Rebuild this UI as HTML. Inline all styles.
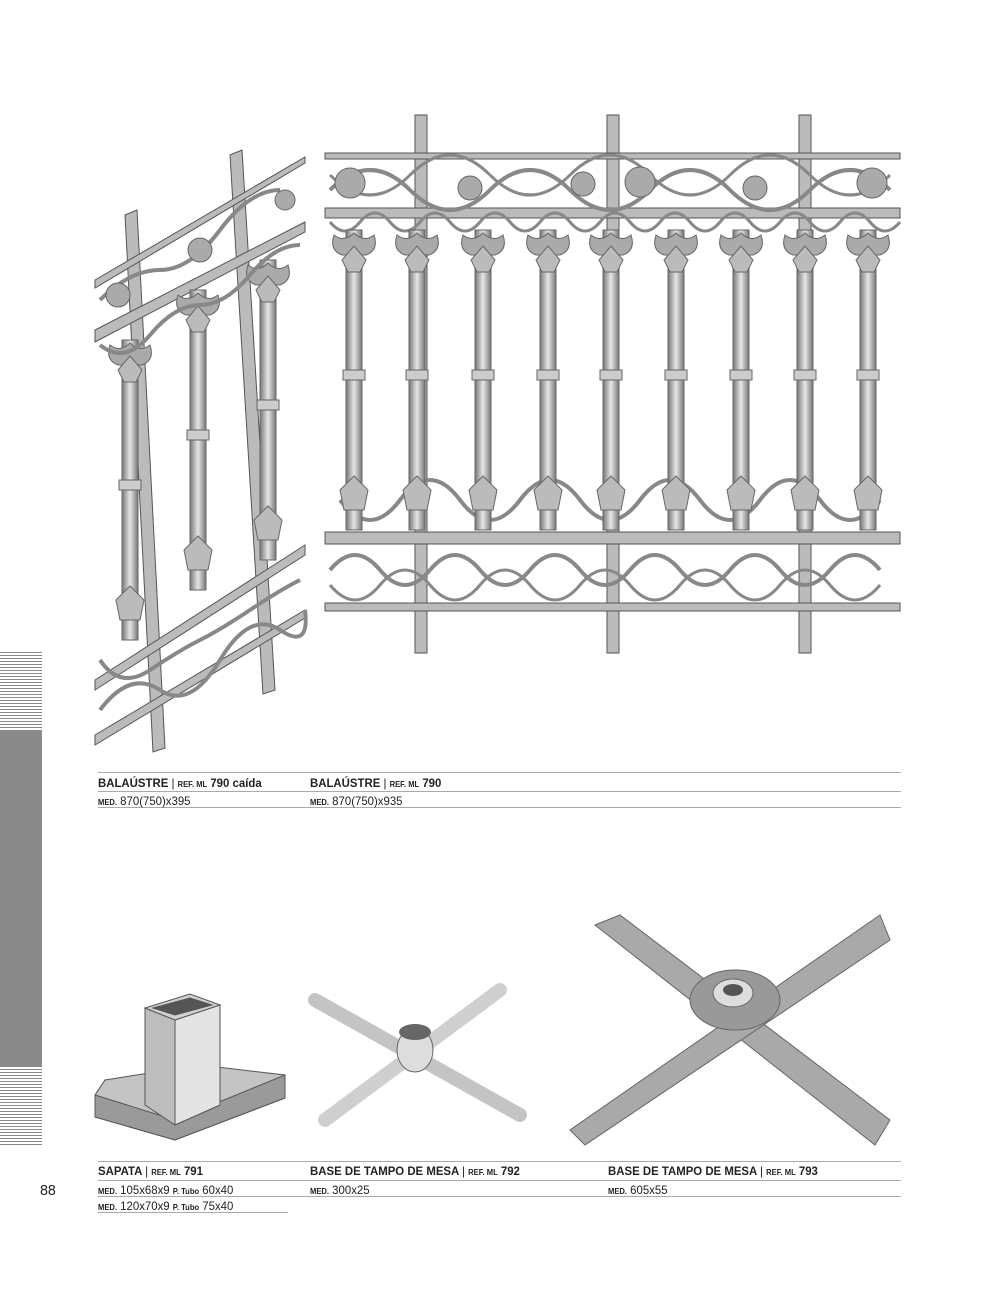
<!DOCTYPE html><html><head><meta charset="utf-8"><style>
body{margin:0;width:999px;height:1295px;background:#fff;position:relative;font-family:"Liberation Sans",sans-serif;overflow:hidden;color:#222}
.t{position:absolute;font-size:12px;white-space:nowrap;transform:scaleX(.95);transform-origin:0 0}
.b{font-weight:bold}
.s{font-size:8px;font-weight:bold}
.l{position:absolute;height:1px;background:#aaa}
</style></head><body>
<div style="position:absolute;left:0;top:652px;width:42px;height:78px;background:repeating-linear-gradient(#888 0 1px,#fff 1px 3px)"></div>
<div style="position:absolute;left:0;top:730px;width:42px;height:336px;background:#8a8a8a"></div>
<div style="position:absolute;left:0;top:1066px;width:42px;height:80px;background:repeating-linear-gradient(#888 0 1px,#fff 1px 3px)"></div>

<svg width="999" height="1295" style="position:absolute;left:0;top:0">
<defs><linearGradient id="m" x1="0" x2="1"><stop offset="0" stop-color="#777"/><stop offset=".5" stop-color="#e6e6e6"/><stop offset="1" stop-color="#777"/></linearGradient>
<g id="bal"><rect x="-8" y="0" width="16" height="300" fill="url(#m)" stroke="#666"/>
<path d="M-20 5 q-5 15 8 20 h24 q13-5 8-20 q-10 8-20 -2 q-10 10-20 2z" fill="#aaa" stroke="#666"/>
<path d="M-12 30 l12 -14 l12 14 l-6 12 h-12z" fill="#bbb" stroke="#666"/>
<rect x="-11" y="140" width="22" height="10" fill="#ccc" stroke="#666"/>
<path d="M-14 260 l14 -14 l14 14 l-4 20 h-20z" fill="#bbb" stroke="#666"/>
</g></defs>
<g fill="#bbb" stroke="#555" stroke-width="1">
<rect x="415" y="115" width="12" height="538"/><rect x="607" y="115" width="12" height="538"/><rect x="799" y="115" width="12" height="538"/>
<rect x="325" y="153" width="575" height="6"/><rect x="325" y="208" width="575" height="10"/>
<rect x="325" y="532" width="575" height="12"/><rect x="325" y="603" width="575" height="8"/>
</g>
<g fill="none" stroke="#888" stroke-width="4">
<path d="M330 190 q40-40 80 0 t80 0 t80 0 t80 0 t80 0 t80 0 t80 0"/>
<path d="M330 175 q40 40 80 0 t80 0 t80 0 t80 0 t80 0 t80 0 t80 0" stroke-width="3"/>
<path d="M330 570 q25-30 50 0 t50 0 t50 0 t50 0 t50 0 t50 0 t50 0 t50 0 t50 0 t50 0 t50 0"/>
<path d="M330 585 q25 30 50 0 t50 0 t50 0 t50 0 t50 0 t50 0 t50 0 t50 0 t50 0 t50 0 t50 0" stroke-width="3"/>
<path d="M340 500 q30 40 60 0 t60 0 t60 0 t60 0 t60 0 t60 0 t60 0 t60 0 t60 0"/>
<path d="M330 222 q15 18 30 0 t30 0 t30 0 t30 0 t30 0 t30 0 t30 0 t30 0 t30 0 t30 0 t30 0 t30 0 t30 0 t30 0 t30 0 t30 0 t30 0 t30 0 t30 0" stroke-width="3"/>
</g>
<g fill="#aaa" stroke="#666">
<circle cx="350" cy="183" r="15"/><circle cx="470" cy="188" r="12"/><circle cx="583" cy="184" r="12"/><circle cx="640" cy="182" r="15"/><circle cx="755" cy="188" r="12"/><circle cx="872" cy="183" r="15"/>
</g>
<use href="#bal" x="354" y="230"/><use href="#bal" x="417" y="230"/><use href="#bal" x="483" y="230"/><use href="#bal" x="548" y="230"/><use href="#bal" x="611" y="230"/><use href="#bal" x="676" y="230"/><use href="#bal" x="741" y="230"/><use href="#bal" x="805" y="230"/><use href="#bal" x="868" y="230"/>
<g stroke="#555" fill="#bbb">
<polygon points="125,215 137,210 165,748 153,752"/><polygon points="230,155 242,150 275,690 263,694"/>
<polygon points="95,280 305,157 305,163 95,288"/><polygon points="95,330 305,222 305,232 95,342"/>
<polygon points="95,680 305,545 305,555 95,690"/><polygon points="95,735 305,610 305,618 95,745"/>
</g>
<use href="#bal" x="130" y="340"/><use href="#bal" x="198" y="290"/><use href="#bal" x="268" y="260"/>
<g fill="none" stroke="#888" stroke-width="4"><path d="M100 710 q30-40 60-20 t60-30 t60-30 t25-20"/><path d="M100 660 q20 30 50 10 t50-30 t50-30 t50-30"/><path d="M100 300 q30-30 60-30 t60-40 t60-40"/><path d="M100 345 q25 20 50-10 t50-30 t50-30 t50-30"/></g>
<g fill="#aaa" stroke="#666"><circle cx="118" cy="295" r="12"/><circle cx="200" cy="250" r="12"/><circle cx="285" cy="200" r="10"/></g>
<g stroke="#555">
<polygon points="95,1095 105,1080 200,1065 285,1075 285,1098 175,1140 95,1117" fill="#c4c4c4"/>
<polygon points="95,1095 175,1120 285,1075 285,1098 175,1140 95,1117" fill="#9a9a9a"/>
<polygon points="145,1008 175,1020 175,1125 145,1105" fill="#bdbdbd"/>
<polygon points="175,1020 220,1005 220,1105 175,1125" fill="#e4e4e4"/>
<polygon points="145,1008 190,994 220,1005 175,1020" fill="#d0d0d0"/>
<polygon points="153,1008 190,998 212,1005 175,1015" fill="#555"/></g>
<g stroke="#777" stroke-width="14" stroke-linecap="round"><line x1="315" y1="1000" x2="520" y2="1115" stroke="#c4c4c4"/><line x1="325" y1="1120" x2="500" y2="990" stroke="#cfcfcf"/></g>
<ellipse cx="415" cy="1050" rx="18" ry="22" fill="#ddd" stroke="#666"/><ellipse cx="415" cy="1032" rx="16" ry="8" fill="#666"/>
<g fill="#a9a9a9" stroke="#666"><polygon points="595,925 620,915 890,1120 875,1145"/><polygon points="570,1130 585,1145 890,940 880,915"/></g>
<ellipse cx="735" cy="1000" rx="45" ry="30" fill="#999" stroke="#666"/><ellipse cx="733" cy="993" rx="20" ry="14" fill="#ddd" stroke="#666"/><ellipse cx="733" cy="990" rx="10" ry="6" fill="#555"/>
</svg>

<div class="l" style="left:98px;top:772px;width:803px"></div>
<div class="l" style="left:98px;top:791px;width:803px"></div>
<div class="l" style="left:98px;top:807px;width:803px"></div>
<div class="t b" style="left:98px;top:776px">BALAÚSTRE <span style="font-weight:normal">|</span> <span class="s">REF. ML</span> 790 caída</div>
<div class="t b" style="left:310px;top:776px">BALAÚSTRE <span style="font-weight:normal">|</span> <span class="s">REF. ML</span> 790</div>
<div class="t" style="left:98px;top:794px"><span class="s">MED.</span> 870(750)x395</div>
<div class="t" style="left:310px;top:794px"><span class="s">MED.</span> 870(750)x935</div>

<div class="l" style="left:98px;top:1161px;width:803px"></div>
<div class="l" style="left:98px;top:1180px;width:803px"></div>
<div class="l" style="left:98px;top:1196px;width:803px"></div>
<div class="l" style="left:98px;top:1212px;width:190px"></div>
<div class="t" style="left:40px;top:1182px;font-size:15px">88</div>
<div class="t b" style="left:98px;top:1164px">SAPATA <span style="font-weight:normal">|</span> <span class="s">REF. ML</span> 791</div>
<div class="t b" style="left:310px;top:1164px">BASE DE TAMPO DE MESA <span style="font-weight:normal">|</span> <span class="s">REF. ML</span> 792</div>
<div class="t b" style="left:608px;top:1164px">BASE DE TAMPO DE MESA <span style="font-weight:normal">|</span> <span class="s">REF. ML</span> 793</div>
<div class="t" style="left:98px;top:1183px"><span class="s">MED.</span> 105x68x9 <span class="s">P. Tubo</span> 60x40</div>
<div class="t" style="left:98px;top:1199px"><span class="s">MED.</span> 120x70x9 <span class="s">P. Tubo</span> 75x40</div>
<div class="t" style="left:310px;top:1183px"><span class="s">MED.</span> 300x25</div>
<div class="t" style="left:608px;top:1183px"><span class="s">MED.</span> 605x55</div>
</body></html>
